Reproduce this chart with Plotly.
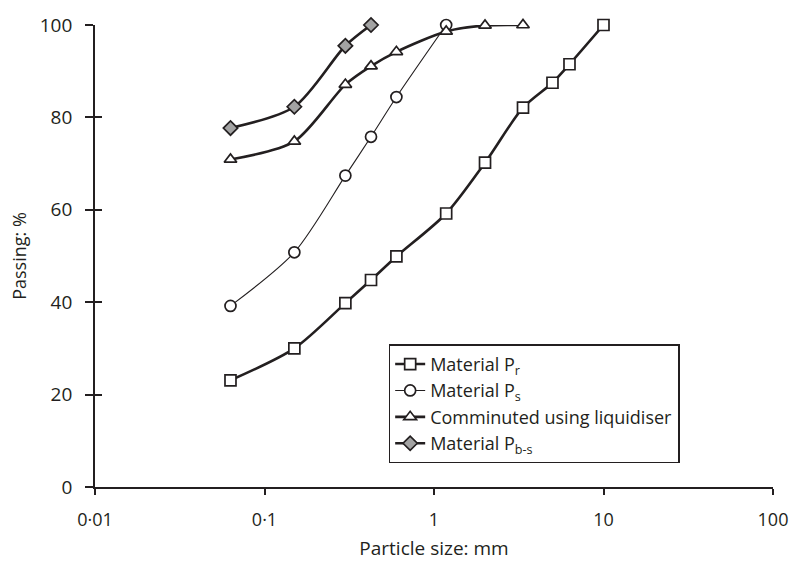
import plotly.graph_objects as go

# Data
size_pr = [0.063, 0.15, 0.3, 0.425, 0.6, 1.18, 2.0, 3.35, 5.0, 6.3, 10.0]
pass_pr = [23.1, 30.0, 39.8, 44.8, 49.9, 59.2, 70.2, 82.1, 87.5, 91.5, 100.0]

size_ps = [0.063, 0.15, 0.3, 0.425, 0.6, 1.18]
pass_ps = [39.2, 50.8, 67.4, 75.8, 84.4, 100.0]

size_liq = [0.063, 0.15, 0.3, 0.425, 0.6, 1.18, 2.0, 3.35]
pass_liq = [70.9, 74.8, 87.1, 91.1, 94.2, 98.6, 99.9, 100.0]

size_pbs = [0.063, 0.15, 0.3, 0.425]
pass_pbs = [77.7, 82.3, 95.5, 100.0]

x_tickvals = [0.01, 0.1, 1, 10, 100]
x_ticktext = ["0·01", "0·1", "1", "10", "100"]
y_tickvals = [0, 20, 40, 60, 80, 100]

INK = "#231f20"
FONT = "Open Sans"

fig = go.Figure()

def add(x, y, name, symbol, lw, fill):
    fig.add_trace(go.Scatter(
        x=x, y=y, name=name, mode="lines+markers",
        line=dict(color=INK, width=lw, shape="spline", smoothing=0.8),
        marker=dict(symbol=symbol, size=11, color=fill,
                    line=dict(color=INK, width=1.7)),
        cliponaxis=False,
    ))

add(size_pr, pass_pr, "Material P<sub>r</sub>", "square", 2.6, "white")
add(size_ps, pass_ps, "Material P<sub>s</sub>", "circle", 1.1, "white")
add(size_liq, pass_liq, "Comminuted using liquidiser", "triangle-up", 2.6, "white")
add(size_pbs, pass_pbs, "Material P<sub>b-s</sub>", "diamond", 2.6, "#a3a3a3")

# overlay axis for the inner half of the crossing y ticks
fig.add_trace(go.Scatter(x=[None], y=[None], yaxis="y2", showlegend=False, hoverinfo="skip"))

fig.update_layout(
    width=800, height=568,
    margin=dict(l=95, r=19, t=21, b=75),
    paper_bgcolor="white", plot_bgcolor="white",
    font=dict(family=FONT, size=18, color=INK),
    xaxis=dict(
        type="log", range=[-2, 2],
        tickvals=x_tickvals, ticktext=x_ticktext,
        showgrid=False, zeroline=False,
        showline=True, linecolor=INK, linewidth=1.8,
        ticks="outside", ticklen=6, tickwidth=1.8, tickcolor=INK,
        ticklabelstandoff=9, tickfont=dict(size=18),
        title=dict(text="Particle size: mm", font=dict(size=19), standoff=12),
    ),
    yaxis=dict(
        range=[0, 100], tickvals=y_tickvals,
        showgrid=False, zeroline=False,
        showline=True, linecolor=INK, linewidth=1.8,
        ticks="outside", ticklen=8, tickwidth=1.8, tickcolor=INK,
        ticklabelstandoff=9, tickfont=dict(size=19),
        title=dict(text="Passing: %", font=dict(size=18), standoff=8),
    ),
    yaxis2=dict(
        range=[0, 100], tickvals=y_tickvals, overlaying="y", side="left",
        showgrid=False, zeroline=False, showline=False,
        ticks="inside", ticklen=7, tickwidth=1.8, tickcolor=INK,
        showticklabels=False,
    ),
    legend=dict(
        x=0.433, y=0.309, xanchor="left", yanchor="top",
        bordercolor=INK, borderwidth=1.6, bgcolor="white",
        font=dict(size=18), tracegroupgap=0,
        itemwidth=30,
    ),
    showlegend=True,
)

fig.write_html(
    "out.html",
    config={"displayModeBar": False},
    post_script="document.body.style.margin='0';document.body.style.overflow='hidden';",
)
